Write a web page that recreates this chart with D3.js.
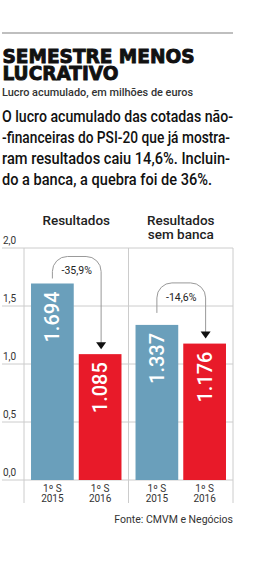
<html>
<head>
<meta charset="utf-8">
<script src="https://d3js.org/d3.v7.min.js"></script>
<style>
  body { margin: 0; background: #fff; }
  svg { font-family: Roboto, sans-serif; }
</style>
</head>
<body>
<svg width="269" height="561" id="chart1"></svg>
<script>
  // chart data
  var groups = ["Resultados", "Resultados sem banca"];
  var groupLabels = [["Resultados"], ["Resultados", "sem banca"]];
  var periods = ["1º S 2015", "1º S 2016"];
  var periodLabels = [["1º S", "2015"], ["1º S", "2016"]];
  var values2015 = [1.694, 1.337];
  var values2016 = [1.085, 1.176];
  var changes = ["-35,9%", "-14,6%"];
  var yTicks = [0, 0.5, 1.0, 1.5, 2.0];

  var blue = "#6a9fbb", red = "#e81a29";
  var svg = d3.select("#chart1");

  // top rule
  svg.append("line")
    .attr("x1", 2).attr("x2", 233).attr("y1", 33).attr("y2", 33)
    .attr("stroke", "#aaa").attr("stroke-width", 1.5);

  // title (heavy)
  [["SEMESTRE MENOS", 63, 192], ["LUCRATIVO", 80, 116]].forEach(function(t) {
    svg.append("text").attr("x", 2.5).attr("y", t[1])
      .style("font-family", "'DejaVu Sans', sans-serif").style("font-weight", "bold")
      .style("font-size", "19px").attr("fill", "#111")
      .attr("stroke", "#111").attr("stroke-width", 0.9)
      .attr("textLength", t[2]).attr("lengthAdjust", "spacingAndGlyphs")
      .text(t[0]);
  });

  svg.append("text").attr("x", 2).attr("y", 96)
    .style("font-family", "Roboto, sans-serif").style("font-weight", "500")
    .style("font-size", "11px").attr("fill", "#333")
    .attr("textLength", 191).attr("lengthAdjust", "spacingAndGlyphs")
    .text("Lucro acumulado, em milhões de euros");

  // intro text
  var intro = [
    ["O lucro acumulado das cotadas não-", 231],
    ["-financeiras do PSI-20 que já mostra-", 228],
    ["ram resultados caiu 14,6%. Incluin-", 228],
    ["do a banca, a quebra foi de 36%.", 210]
  ];
  svg.selectAll(".intro").data(intro).enter()
    .append("text")
      .attr("class", "intro")
      .attr("x", 2)
      .attr("y", function(d, i) { return 122 + i * 21; })
      .style("font-family", "Roboto, sans-serif")
      .style("font-weight", "500")
      .style("font-size", "16.5px")
      .attr("fill", "#111")
      .attr("textLength", function(d) { return d[1]; })
      .attr("lengthAdjust", "spacingAndGlyphs")
      .text(function(d) { return d[0]; });

  // scales
  var y = d3.scaleLinear().domain([0, 2]).range([480, 248]);
  var x0 = d3.scaleBand().domain(groups).range([24, 233]);
  var x1 = d3.scaleBand().domain(periods).range([0, x0.bandwidth()])
    .paddingInner(0.105).paddingOuter(0.147);

  // gridlines + y labels
  svg.selectAll(".grid").data(yTicks).enter()
    .append("line")
      .attr("x1", 2).attr("x2", 233)
      .attr("y1", function(d) { return y(d); })
      .attr("y2", function(d) { return y(d); })
      .attr("stroke", "#ccc").attr("stroke-width", 1);
  svg.selectAll(".ylab").data(yTicks).enter()
    .append("text")
      .attr("x", 3)
      .attr("y", function(d) { return y(d) - 4; })
      .style("font-family", "Roboto, sans-serif")
      .style("font-size", "10px")
      .attr("fill", "#333")
      .text(function(d) { return d3.format(".1f")(d).replace(".", ","); });

  // vertical separators
  [24, x0(groups[1]), 233].forEach(function(xv) {
    svg.append("line")
      .attr("x1", xv).attr("x2", xv).attr("y1", y(2)).attr("y2", 503)
      .attr("stroke", "#ccc").attr("stroke-width", 1);
  });

  // group headers
  groupLabels.forEach(function(lines, i) {
    var cx = x0(groups[i]) + x0.bandwidth() / 2;
    lines.forEach(function(t, j) {
      svg.append("text")
        .attr("x", cx).attr("y", 225 + j * 14)
        .attr("text-anchor", "middle")
        .style("font-family", "Roboto, sans-serif")
        .style("font-weight", "500")
        .style("font-size", "13.5px")
        .attr("fill", "#222")
        .text(t);
    });
  });

  // bars
  var barData = [];
  groups.forEach(function(g, i) {
    barData.push({g: g, p: periods[0], v: values2015[i], c: blue});
    barData.push({g: g, p: periods[1], v: values2016[i], c: red});
  });
  var bars = svg.append("g");
  bars.selectAll("rect").data(barData).enter()
    .append("rect")
      .attr("x", function(d) { return x0(d.g) + x1(d.p); })
      .attr("y", function(d) { return y(d.v); })
      .attr("width", x1.bandwidth())
      .attr("height", function(d) { return y(0) - y(d.v); })
      .attr("fill", function(d) { return d.c; });
  bars.selectAll("text").data(barData).enter()
    .append("text")
      .attr("transform", function(d) {
        var cx = x0(d.g) + x1(d.p) + x1.bandwidth() / 2 + 7;
        return "translate(" + cx + "," + (y(d.v) + 8) + ") rotate(-90)";
      })
      .attr("text-anchor", "end")
      .style("font-family", "Roboto, sans-serif")
      .style("font-weight", "500")
      .style("font-size", "20px")
      .attr("fill", "#fff")
      .text(function(d) { return d3.format(".3f")(d.v); });

  // x labels
  groups.forEach(function(g) {
    periods.forEach(function(p, k) {
      periodLabels[k].forEach(function(t, j) {
        svg.append("text")
          .attr("x", x0(g) + x1(p) + x1.bandwidth() / 2)
          .attr("y", 492 + j * 9.5)
          .attr("text-anchor", "middle")
          .style("font-family", "Roboto, sans-serif")
          .style("font-size", "10px")
          .attr("fill", "#333")
          .text(t);
      });
    });
  });

  // change annotations
  var arcTopGap = [27, 42], startGap = [5, 12], r = 15;
  groups.forEach(function(g, i) {
    var xa = x0(g) + x1(periods[0]) + x1.bandwidth() / 2;
    var xb = x0(g) + x1(periods[1]) + x1.bandwidth() / 2 + 1;
    var ys = y(values2015[i]) - startGap[i];
    var yt = y(values2015[i]) - arcTopGap[i];
    var tip = y(values2016[i]) - 5;
    svg.append("path")
      .attr("d", "M" + xa + "," + ys + " V" + (yt + r) +
        " A" + r + "," + r + " 0 0 1 " + (xa + r) + "," + yt +
        " H" + (xb - r) +
        " A" + r + "," + r + " 0 0 1 " + xb + "," + (yt + r) +
        " V" + (tip - 6))
      .attr("fill", "none").attr("stroke", "#999").attr("stroke-width", 1);
    svg.append("path")
      .attr("d", "M" + (xb - 5) + "," + (tip - 7) + " H" + (xb + 5) + " L" + xb + "," + tip + " Z")
      .attr("fill", "#111");
    svg.append("text")
      .attr("x", (xa + xb) / 2).attr("y", yt + 18)
      .attr("text-anchor", "middle")
      .style("font-family", "Roboto, sans-serif")
      .style("font-size", "10.5px")
      .attr("fill", "#222")
      .text(changes[i]);
  });

  // source
  svg.append("text").attr("x", 233).attr("y", 523)
    .attr("text-anchor", "end")
    .style("font-family", "Roboto, sans-serif")
    .style("font-size", "10.5px")
    .attr("fill", "#333")
    .text("Fonte: CMVM e Negócios");
</script>
</body>
</html>
